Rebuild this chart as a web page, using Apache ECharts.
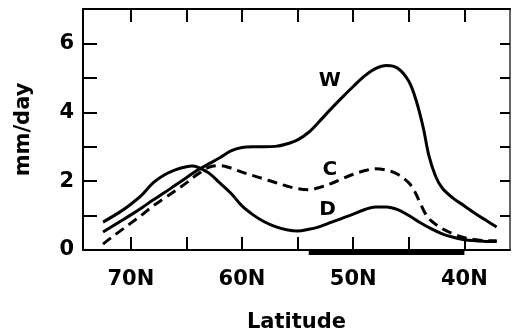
<!DOCTYPE html>
<html>
<head>
<meta charset="utf-8">
<script src="https://cdn.jsdelivr.net/npm/echarts@6/dist/echarts.min.js"></script>
<style>
  html, body { margin: 0; padding: 0; background: #fff; }
  #chart { width: 512px; height: 332px; }
</style>
</head>
<body>
<div id="chart"></div>
<script>
// Zonal-mean precipitation (mm/day) against latitude for three cases.
const latTicks = [40, 45, 50, 55, 60, 65, 70];
const latLabels = [40, 50, 60, 70];
const rateLabels = [0, 2, 4, 6];

const wLat = [72.5, 71, 70, 69, 68, 67, 66, 65, 64, 63, 62, 61, 60, 59, 58, 57, 56, 55, 54, 53, 52, 51, 50, 49, 48, 47, 46, 45, 44.3, 43.7, 43.2, 42.6, 42, 41, 40, 39, 38, 37.1];
const wVal = [0.52, 0.82, 1.02, 1.23, 1.45, 1.66, 1.88, 2.1, 2.32, 2.5, 2.68, 2.88, 2.98, 3.0, 3.0, 3.01, 3.08, 3.2, 3.42, 3.75, 4.1, 4.43, 4.75, 5.05, 5.27, 5.36, 5.28, 4.9, 4.3, 3.55, 2.75, 2.15, 1.8, 1.5, 1.28, 1.05, 0.85, 0.67];

const cLat = [72.5, 72, 71, 70, 69, 68, 67, 66, 65, 64, 63, 62, 61, 60, 59, 58, 57, 56, 55, 54, 53, 52, 51, 50, 49, 48, 47, 46, 45, 44.5, 44, 43.5, 43, 42, 41, 40, 39, 38, 37.1];
const cVal = [0.17, 0.3, 0.54, 0.78, 1.02, 1.28, 1.5, 1.72, 1.95, 2.2, 2.4, 2.45, 2.38, 2.26, 2.16, 2.06, 1.96, 1.86, 1.78, 1.75, 1.82, 1.93, 2.07, 2.2, 2.3, 2.36, 2.32, 2.2, 1.95, 1.72, 1.38, 1.05, 0.85, 0.62, 0.47, 0.36, 0.3, 0.27, 0.27];

const dLat = [72.5, 71, 70, 69, 68, 67, 66, 65, 64.5, 64, 63, 62, 61, 60, 59, 58, 57, 56, 55, 54, 53, 52, 51, 50, 49, 48, 47, 46, 45, 44, 43, 42, 41, 40, 39, 38, 37.1];
const dVal = [0.81, 1.1, 1.33, 1.6, 1.95, 2.18, 2.33, 2.42, 2.44, 2.41, 2.24, 1.95, 1.65, 1.28, 1.02, 0.82, 0.68, 0.59, 0.55, 0.6, 0.68, 0.8, 0.92, 1.04, 1.17, 1.25, 1.25, 1.17, 1.0, 0.8, 0.62, 0.47, 0.37, 0.3, 0.27, 0.25, 0.25];

// Latitude band marked beneath the axis
const bandLat = [54, 40];

// Curve names and where they are written
const curveNames = ['W', 'C', 'D'];
const nameLat = [52.1, 52.1, 52.3];
const nameVal = [4.91, 2.33, 1.16];

const pairs = (xs, ys) => xs.map((x, i) => [x, ys[i]]);

const FONT = 'DejaVu Sans';
const INK = '#000';

const chart = echarts.init(document.getElementById('chart'), null, { renderer: 'canvas' });

const baseX = {
  type: 'value',
  inverse: true,
  min: 35.9,
  max: 74.3,
  splitLine: { show: false },
  axisLine: { show: true, onZero: false, lineStyle: { color: INK, width: 2 } },
  axisTick: { show: true, inside: true, length: 13, customValues: latTicks, lineStyle: { color: INK, width: 2 } }
};

chart.setOption({
  animation: false,
  backgroundColor: '#fff',
  grid: { left: 83, right: 2, top: 9, bottom: 82, containLabel: false, outerBoundsMode: 'none' },
  xAxis: [
    Object.assign({}, baseX, {
      position: 'bottom',
      name: 'Latitude',
      nameLocation: 'middle',
      nameGap: 62,
      nameTextStyle: { fontFamily: FONT, fontWeight: 'bold', fontSize: 21, color: INK },
      axisLabel: {
        show: true,
        customValues: latLabels,
        margin: 19,
        formatter: v => v + 'N',
        fontFamily: FONT, fontWeight: 'bold', fontSize: 21, color: INK
      }
    }),
    Object.assign({}, baseX, {
      position: 'top',
      axisLabel: { show: false }
    })
  ],
  yAxis: [
    {
      type: 'value',
      position: 'left',
      min: 0, max: 7, interval: 1,
      name: 'mm/day',
      nameLocation: 'middle',
      nameGap: 49,
      nameRotate: 90,
      nameTextStyle: { fontFamily: FONT, fontWeight: 'bold', fontSize: 21, color: INK },
      splitLine: { show: false },
      axisLine: { show: true, onZero: false, lineStyle: { color: INK, width: 2 } },
      axisTick: { show: true, inside: true, length: 14, lineStyle: { color: INK, width: 2 } },
      axisLabel: {
        margin: 9,
        formatter: v => (rateLabels.indexOf(v) >= 0 ? String(v) : ''),
        fontFamily: FONT, fontWeight: 'bold', fontSize: 21, color: INK
      }
    },
    {
      type: 'value',
      position: 'right',
      min: 0, max: 7, interval: 1,
      splitLine: { show: false },
      axisLine: { show: true, onZero: false, lineStyle: { color: '#333', width: 1.5 } },
      axisTick: { show: true, inside: true, length: 10, lineStyle: { color: INK, width: 2 } },
      axisLabel: { show: false }
    }
  ],
  series: [
    {
      name: 'W', type: 'line', smooth: 0.35, showSymbol: false,
      data: pairs(wLat, wVal),
      lineStyle: { color: INK, width: 3 }
    },
    {
      name: 'C', type: 'line', smooth: 0.35, showSymbol: false,
      data: pairs(cLat, cVal),
      lineStyle: { color: INK, width: 3, type: [10, 6] }
    },
    {
      name: 'D', type: 'line', smooth: 0.35, showSymbol: false,
      data: pairs(dLat, dVal),
      lineStyle: { color: INK, width: 3 }
    },
    {
      name: 'band', type: 'line', showSymbol: false, clip: false,
      data: bandLat.map(x => [x, -0.06]),
      lineStyle: { color: INK, width: 6 },
      z: 5
    },
    {
      name: 'names', type: 'scatter', symbolSize: 0,
      itemStyle: { opacity: 1, color: INK },
      data: curveNames.map((n, i) => ({ name: n, value: [nameLat[i], nameVal[i]] })),
      label: {
        show: true, position: 'inside',
        formatter: p => p.name,
        fontFamily: FONT, fontWeight: 'bold', fontSize: 20, color: INK
      }
    }
  ]
});
</script>
</body>
</html>
